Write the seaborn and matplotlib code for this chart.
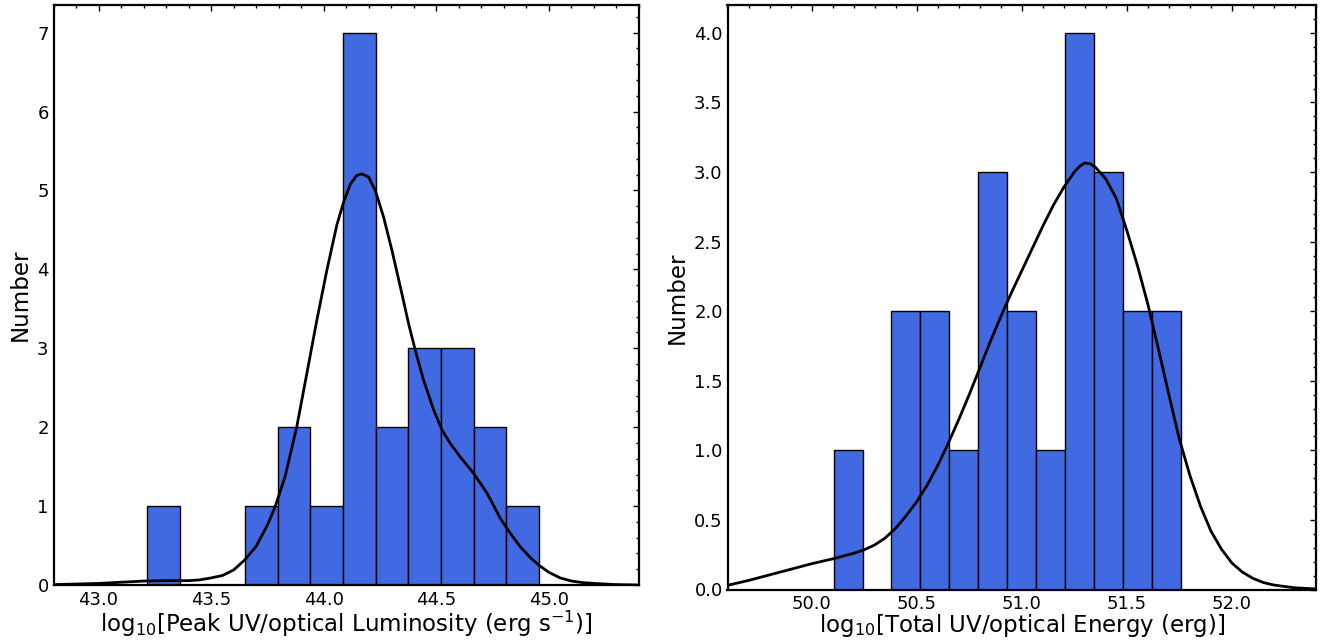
import numpy as np
import pandas as pd
import matplotlib
matplotlib.use("Agg")
import matplotlib.pyplot as plt
import seaborn as sns
from matplotlib.ticker import MultipleLocator, FormatStrFormatter

# ---------------- data ----------------
# Left: peak UV/optical luminosity histogram (12 equal bins between data min and max)
lum_min, lum_max = 43.216, 44.955
lum_counts = [1, 0, 0, 1, 2, 1, 7, 2, 3, 3, 2, 1]
# KDE curve
lum_curve_x = [42.80, 42.90, 43.00, 43.10, 43.20, 43.30, 43.40, 43.45, 43.50, 43.55,
               43.60, 43.65, 43.70, 43.75, 43.784, 43.828, 43.880, 43.925, 43.969, 44.014,
               44.058, 44.088, 44.118, 44.147, 44.170, 44.199, 44.229, 44.266, 44.303, 44.340,
               44.377, 44.407, 44.444, 44.488, 44.526, 44.563, 44.607, 44.667, 44.726, 44.785,
               44.830, 44.874, 44.920, 44.956, 45.00, 45.05, 45.10, 45.15, 45.20, 45.30, 45.40]
lum_curve_y = [0.005, 0.012, 0.02, 0.035, 0.05, 0.055, 0.055, 0.065, 0.09, 0.12,
               0.19, 0.32, 0.49, 0.76, 0.99, 1.37, 2.00, 2.68, 3.35, 3.99,
               4.56, 4.85, 5.08, 5.19, 5.21, 5.17, 5.00, 4.66, 4.24, 3.78,
               3.31, 2.97, 2.59, 2.22, 1.96, 1.79, 1.62, 1.41, 1.16, 0.84,
               0.65, 0.48, 0.34, 0.25, 0.16, 0.09, 0.05, 0.03, 0.02, 0.005, 0.0]

# Right: total UV/optical energy histogram
en_min, en_max = 50.105, 51.756
en_counts = [1, 0, 2, 2, 1, 3, 2, 1, 4, 3, 2, 2]
en_curve_x = [49.60, 49.70, 49.80, 49.90, 50.00, 50.10, 50.20, 50.25, 50.30, 50.35,
              50.40, 50.45, 50.50, 50.55, 50.60, 50.65, 50.70, 50.75, 50.80, 50.85,
              50.90, 50.95, 51.00, 51.05, 51.10, 51.15, 51.20, 51.25, 51.275, 51.30,
              51.325, 51.35, 51.40, 51.45, 51.50, 51.55, 51.60, 51.65, 51.70, 51.75,
              51.80, 51.85, 51.90, 51.95, 52.00, 52.05, 52.10, 52.15, 52.20, 52.30,
              52.40]
en_curve_y = [0.03, 0.065, 0.105, 0.145, 0.185, 0.22, 0.26, 0.285, 0.32, 0.37,
              0.44, 0.53, 0.63, 0.75, 0.89, 1.05, 1.22, 1.40, 1.59, 1.78,
              1.96, 2.13, 2.29, 2.45, 2.61, 2.76, 2.89, 3.00, 3.04, 3.065,
              3.06, 3.035, 2.95, 2.81, 2.58, 2.33, 2.05, 1.73, 1.40, 1.08,
              0.82, 0.60, 0.42, 0.29, 0.19, 0.125, 0.08, 0.05, 0.032, 0.012,
              0.004]

lum_xlabel = r"log$_{10}$[Peak UV/optical Luminosity (erg s$^{-1}$)]"
en_xlabel = r"log$_{10}$[Total UV/optical Energy (erg)]"
ylabel = "Number"

# ---------------- plotting ----------------
sns.set_style("white")
plt.rcParams["font.family"] = ["DejaVu Sans"]
for key in ["text.color", "axes.labelcolor", "xtick.color", "ytick.color",
            "axes.edgecolor"]:
    plt.rcParams[key] = "black"

W, H = 1326, 641
fig = plt.figure(figsize=(W / 100, H / 100), dpi=100)
axL = fig.add_axes([53.5 / W, (H - 585) / H, (639 - 53.5) / W, (585 - 5) / H])
axR = fig.add_axes([727.5 / W, (H - 589.5) / H, (1316 - 727.5) / W, (589.5 - 5) / H])


def draw(ax, lo, hi, counts, cx, cy, xlabel, xlim, ylim, ymajor, yminor, xpad):
    nb = len(counts)
    edges = np.linspace(lo, hi, nb + 1)
    centers = 0.5 * (edges[:-1] + edges[1:])
    df = pd.DataFrame({"x": centers, "w": np.asarray(counts, dtype=float)})
    sns.histplot(data=df, x="x", weights="w", bins=[float(e) for e in edges], ax=ax,
                 color="#4169E1", alpha=1.0, edgecolor="black", linewidth=1.0)
    sns.lineplot(x=cx, y=cy, ax=ax, color="black", linewidth=2.0)
    ax.set_xlim(*xlim)
    ax.set_ylim(*ylim)
    ax.set_xlabel(xlabel, fontsize=16.5, labelpad=xpad)
    ax.set_ylabel(ylabel, fontsize=16.5, labelpad=4)
    ax.xaxis.set_major_locator(MultipleLocator(0.5))
    ax.xaxis.set_minor_locator(MultipleLocator(0.1))
    ax.yaxis.set_major_locator(MultipleLocator(ymajor))
    ax.yaxis.set_minor_locator(MultipleLocator(yminor))
    ax.tick_params(which="both", direction="in", top=True, right=True,
                   labelsize=13, width=1.0, colors="black")
    ax.tick_params(axis="x", which="major", pad=4)
    ax.tick_params(which="major", length=4.5)
    ax.tick_params(which="minor", length=2.5)
    for s in ax.spines.values():
        s.set_linewidth(1.6)
        s.set_color("black")


draw(axL, lum_min, lum_max, lum_counts, lum_curve_x, lum_curve_y, lum_xlabel,
     (42.8, 45.4), (0, 7.35), 1, 0.2, 0.5)
draw(axR, en_min, en_max, en_counts, en_curve_x, en_curve_y, en_xlabel,
     (49.6, 52.4), (0, 4.2), 0.5, 0.1, -1.0)
axR.yaxis.set_major_formatter(FormatStrFormatter("%.1f"))

fig.savefig("out.png", dpi=100)
